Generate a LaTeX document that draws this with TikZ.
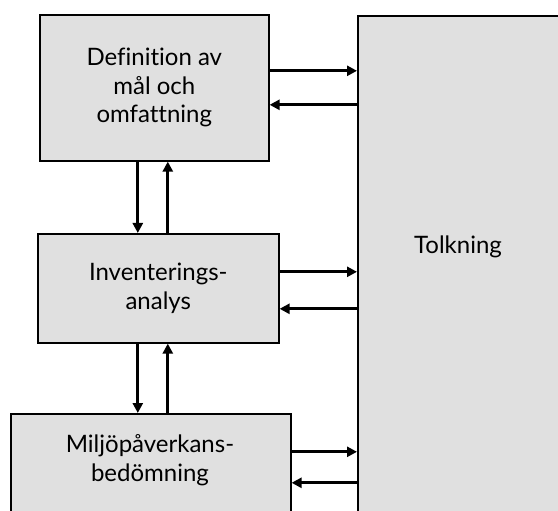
\documentclass[tikz,border=0pt]{standalone}
\usepackage{fontspec}
\setmainfont{Lato}[Ligatures=NoCommon]
\usetikzlibrary{arrows.meta}
\definecolor{boxgray}{HTML}{E0E0E0}
\tikzset{
  box/.style={draw=black, line width=1.6pt, fill=boxgray, rectangle, inner sep=0pt, anchor=north west},
  lbl/.style={align=center, font=\fontsize{24}{28.5}\selectfont, inner sep=0pt},
  arr/.style={line width=2.8pt, -{Triangle[length=10pt,width=10pt]}}
}
\begin{document}
\begin{tikzpicture}[x=1pt,y=-1pt]
\useasboundingbox (0,0) rectangle (558,511);
\clip (0,0) rectangle (558,511);
\node[box, minimum width=229pt, minimum height=146pt] (b1) at (39,14) {};
\node[lbl] (t1) at (b1.center) {Definition av\\mål och\\omfattning};
\node[box, minimum width=241pt, minimum height=109pt] (b2) at (37,233) {};
\node[lbl] (t2) at (b2.center) {Inventerings-\\analys};
\node[box, minimum width=280pt, minimum height=117pt] (b3) at (10,413) {};
\node[lbl] (t3) at (150,460) {Miljöpåverkans-\\bedömning};
\node[box, minimum width=240pt, minimum height=540pt] (tolk) at (357,15) {};
\node[lbl] (t4) at (458,247) {Tolkning};
% horizontal arrows
\draw[arr] ([yshift=17pt]b1.east) -- ([yshift=17pt]b1.east -| tolk.west);
\draw[arr] ([yshift=-17pt]b1.east -| tolk.west) -- ([yshift=-17pt]b1.east);
\draw[arr] ([yshift=16.5pt]b2.east) -- ([yshift=16.5pt]b2.east -| tolk.west);
\draw[arr] ([yshift=-20.5pt]b2.east -| tolk.west) -- ([yshift=-20.5pt]b2.east);
\draw[arr] ([yshift=20.5pt]b3.east) -- ([yshift=20.5pt]b3.east -| tolk.west);
\draw[arr] ([yshift=-10.5pt]b3.east -| tolk.west) -- ([yshift=-10.5pt]b3.east);
% vertical arrows
\draw[arr] ([xshift=-16.5pt]b1.south) -- ([xshift=-16.5pt]b1.south |- b2.north);
\draw[arr] ([xshift=13.5pt]b1.south |- b2.north) -- ([xshift=13.5pt]b1.south);
\draw[arr] ([xshift=-16.5pt]b1.south |- b2.south) -- ([xshift=-16.5pt]b1.south |- b3.north);
\draw[arr] ([xshift=13.5pt]b1.south |- b3.north) -- ([xshift=13.5pt]b1.south |- b2.south);
\end{tikzpicture}
\end{document}
